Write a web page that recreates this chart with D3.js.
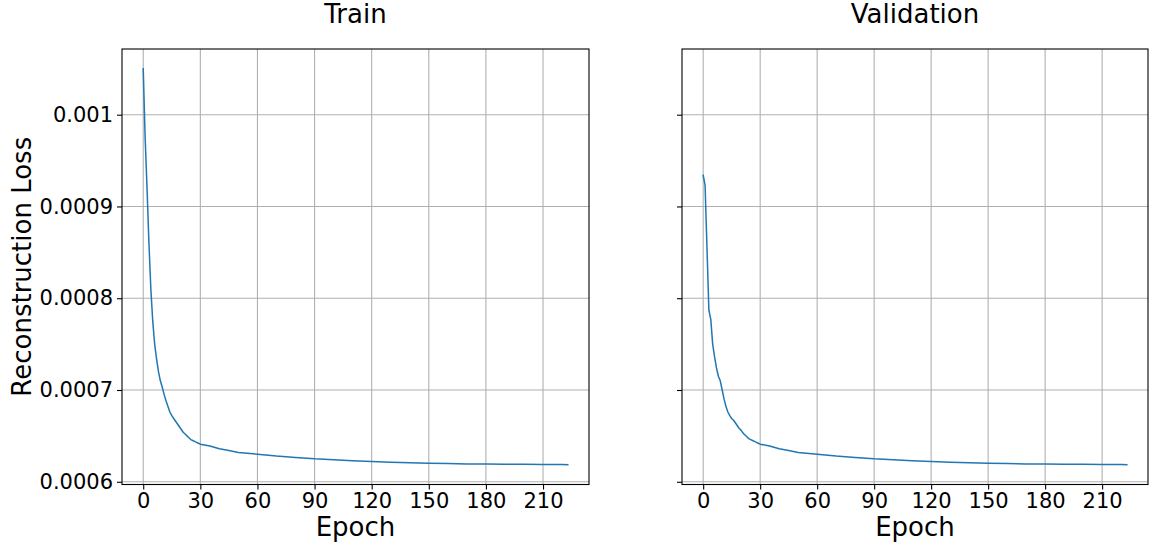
<!DOCTYPE html>
<html>
<head>
<meta charset="utf-8">
<script src="https://cdn.jsdelivr.net/npm/d3@7"></script>
<style>
  html, body { margin: 0; padding: 0; background: #fff; }
  svg { display: block; font-family: "DejaVu Sans", sans-serif; }
</style>
</head>
<body>
<svg id="chart" width="1150" height="546"></svg>
<script>
const epochs = [0,1,2,3,4,5,6,7,8,9,10,11,12,13,14,15,16,17,18,19,20,21,22,23,24,25,26,27,28,29,30,
  35,40,45,50,60,70,80,90,100,110,120,130,140,150,160,170,180,190,200,210,220,223];
const trainLoss = [0.00105,0.000975,0.00092,0.00086,0.00081,0.000775,0.00075,0.000734,0.00072,0.00071,
  0.000703,0.000695,0.000688,0.000682,0.000676,0.000672,0.000669,0.000666,0.000663,0.00066,
  0.000657,0.000654,0.000652,0.00065,0.000648,0.000646,0.000645,0.000644,0.000643,0.000642,0.000641,
  0.000639,0.000636,0.000634,0.000632,0.00063,0.000628,0.0006265,0.000625,0.000624,0.000623,0.000622,
  0.0006213,0.0006206,0.0006201,0.0006198,0.0006195,0.0006193,0.0006191,0.000619,0.0006188,0.0006187,0.0006186];
const valLoss = [0.000934,0.000923,0.000855,0.000787,0.000777,0.00075,0.000736,0.000724,0.000715,0.00071,
  0.0007,0.00069,0.000682,0.000676,0.000672,0.000669,0.000667,0.000664,0.000661,0.000658,
  0.000656,0.000653,0.000651,0.000649,0.000647,0.000646,0.000645,0.000644,0.000643,0.000642,0.000641,
  0.000639,0.000636,0.000634,0.000632,0.00063,0.000628,0.0006265,0.000625,0.000624,0.000623,0.000622,
  0.0006213,0.0006206,0.0006201,0.0006198,0.0006195,0.0006193,0.0006191,0.000619,0.0006188,0.0006187,0.0006186];
const xTicks = [0,30,60,90,120,150,180,210];
const yTicks = [0.0006,0.0007,0.0008,0.0009,0.001];
const yTickLabels = ["0.0006","0.0007","0.0008","0.0009","0.001"];
const titles = ["Train","Validation"];
const xLabel = "Epoch";
const yLabel = "Reconstruction Loss";

(function () {
const svg = d3.select("#chart");
const panels = [
  {left:122, right:589, data:trainLoss, title:titles[0], showY:true},
  {left:682, right:1148, data:valLoss, title:titles[1], showY:false}
];
const plotTop = 49, plotBottom = 484.5;

const xMin = d3.min(epochs), xMax = d3.max(epochs);
const xm = (xMax - xMin) * 0.05;
const allY = trainLoss.concat(valLoss);
const yMin = d3.min(allY), yMax = d3.max(allY);
const ym = (yMax - yMin) * 0.05;

const gridColor = "#b0b0b0";
const lineColor = "#1f77b4";

panels.forEach(p => {
  const x = d3.scaleLinear().domain([xMin - xm, xMax + xm]).range([p.left, p.right]);
  const y = d3.scaleLinear().domain([yMin - ym, yMax + ym]).range([plotBottom, plotTop]);
  const g = svg.append("g");

  g.selectAll(".gx").data(xTicks).enter().append("line")
    .attr("x1", d => x(d)).attr("x2", d => x(d))
    .attr("y1", plotTop).attr("y2", plotBottom)
    .attr("stroke", gridColor).attr("stroke-width", 1.1);
  g.selectAll(".gy").data(yTicks).enter().append("line")
    .attr("x1", p.left).attr("x2", p.right)
    .attr("y1", d => y(d)).attr("y2", d => y(d))
    .attr("stroke", gridColor).attr("stroke-width", 1.1);

  const line = d3.line().x((d, i) => x(epochs[i])).y(d => y(d));
  g.append("path").datum(p.data)
    .attr("d", line).attr("fill", "none")
    .attr("stroke", lineColor).attr("stroke-width", 1.5)
    .attr("stroke-linejoin", "round").attr("stroke-linecap", "square");

  const xAxis = d3.axisBottom(x).tickValues(xTicks).tickSize(5).tickPadding(4).tickFormat(d3.format("d"));
  const gx = g.append("g").attr("transform", `translate(0,${plotBottom})`).call(xAxis);
  gx.select(".domain").remove();
  gx.selectAll(".tick line").attr("stroke", "#000").attr("stroke-width", 1.1);
  gx.selectAll(".tick text").attr("font-size", "21px").attr("fill", "#000")
    .attr("font-family", "DejaVu Sans, sans-serif");

  const yAxis = d3.axisLeft(y).tickValues(yTicks).tickSize(5).tickPadding(4)
    .tickFormat((d, i) => p.showY ? yTickLabels[i] : "");
  const gy = g.append("g").attr("transform", `translate(${p.left},0)`).call(yAxis);
  gy.select(".domain").remove();
  gy.selectAll(".tick line").attr("stroke", "#000").attr("stroke-width", 1.1);
  gy.selectAll(".tick text").attr("font-size", "21px").attr("fill", "#000")
    .attr("font-family", "DejaVu Sans, sans-serif");

  g.append("rect").attr("x", p.left).attr("y", plotTop)
    .attr("width", p.right - p.left).attr("height", plotBottom - plotTop)
    .attr("fill", "none").attr("stroke", "#000").attr("stroke-width", 1.1);

  g.append("text").attr("x", (p.left + p.right) / 2).attr("y", 23)
    .attr("text-anchor", "middle").attr("font-size", "26px").attr("fill", "#000")
    .text(p.title);

  g.append("text").attr("x", (p.left + p.right) / 2).attr("y", 536)
    .attr("text-anchor", "middle").attr("font-size", "26px").attr("fill", "#000")
    .text(xLabel);

  if (p.showY) {
    g.append("text")
      .attr("transform", `translate(31,${(plotTop + plotBottom) / 2}) rotate(-90)`)
      .attr("text-anchor", "middle").attr("font-size", "26px").attr("fill", "#000")
      .text(yLabel);
  }
});
})();
</script>
</body>
</html>
